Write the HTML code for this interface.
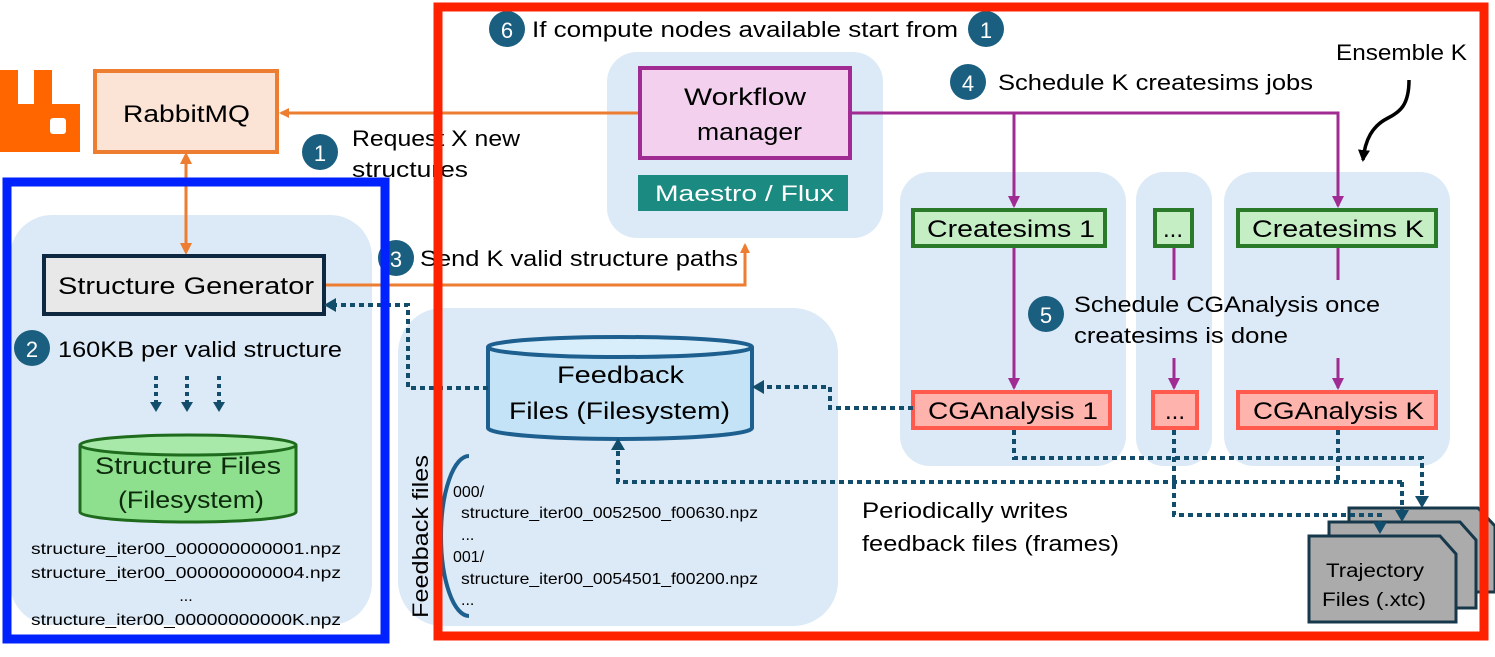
<!DOCTYPE html>
<html><head><meta charset="utf-8"><style>
html,body{margin:0;padding:0;background:#fff;}
svg text{font-family:"Liberation Sans",sans-serif;}
</style></head><body>
<svg width="1495" height="652" viewBox="0 0 1495 652" xmlns="http://www.w3.org/2000/svg">
<defs>
<marker id="ao" markerWidth="10" markerHeight="10" refX="8" refY="5" orient="auto" markerUnits="userSpaceOnUse"><path d="M0,0 L10,5 L0,10 z" fill="#ed7d31"/></marker>
<marker id="ap" markerWidth="12" markerHeight="12" refX="10" refY="6" orient="auto" markerUnits="userSpaceOnUse"><path d="M0,0 L12,6 L0,12 z" fill="#a02b93"/></marker>
<marker id="ak" markerWidth="12" markerHeight="12" refX="10" refY="6" orient="auto" markerUnits="userSpaceOnUse"><path d="M0,0 L12,6 L0,12 z" fill="#000"/></marker>
</defs>

<rect x="10" y="215" width="362" height="410" rx="42" fill="#dce9f6"/>
<rect x="607" y="52" width="276" height="186" rx="30" fill="#dce9f6"/>
<rect x="398" y="308" width="440" height="318" rx="45" fill="#dce9f6"/>
<rect x="900" y="172" width="226" height="294" rx="30" fill="#dce9f6"/>
<rect x="1136" y="172" width="76" height="294" rx="28" fill="#dce9f6"/>
<rect x="1224" y="172" width="226" height="294" rx="30" fill="#dce9f6"/>

<path d="M0,70 h18 v34 h16 v-34 h18 v34 h28 v48 h-80 z" fill="#ff6600"/>
<rect x="50" y="118" width="16" height="16" rx="3" fill="#fff"/>

<rect x="95" y="71" width="182" height="81" fill="#fbe3d6" stroke="#ed7d31" stroke-width="4"/>
<text x="123" y="122" font-size="24" textLength="127" lengthAdjust="spacingAndGlyphs">RabbitMQ</text>

<line x1="640" y1="113" x2="281" y2="113" stroke="#ed7d31" stroke-width="3" marker-end="url(#ao)"/>
<path d="M326,285 H745 V245" fill="none" stroke="#ed7d31" stroke-width="3" marker-end="url(#ao)"/>
<line x1="186" y1="160" x2="186" y2="250" stroke="#ed7d31" stroke-width="3"/>
<path d="M180,164 L186,152 L192,164 z M180,243 L186,255 L192,243 z" fill="#ed7d31"/>

<rect x="44" y="256" width="280" height="58" fill="#e8e8e8" stroke="#0e2841" stroke-width="4"/>
<text x="58" y="294" font-size="24" textLength="256" lengthAdjust="spacingAndGlyphs">Structure Generator</text>

<circle cx="32" cy="348" r="18" fill="#1a5e80"/><text x="32" y="357" font-size="22" fill="#fff" text-anchor="middle">2</text>
<text x="58" y="357" font-size="22" textLength="284" lengthAdjust="spacingAndGlyphs">160KB per valid structure</text>

<g stroke="#124e6b" stroke-width="4" stroke-dasharray="4 4" fill="none">
<line x1="156" y1="376" x2="156" y2="402"/><line x1="187" y1="376" x2="187" y2="402"/><line x1="219" y1="376" x2="219" y2="402"/>
</g>
<path d="M150,402 h12 l-6,10 z M181,402 h12 l-6,10 z M213,402 h12 l-6,10 z" fill="#124e6b"/>

<path d="M80,445 V512 A108,10 0 0 0 296,512 V445" fill="#8ee08e" stroke="#1e6b1e" stroke-width="3"/>
<ellipse cx="188" cy="445" rx="108" ry="10" fill="#a8e8a8" stroke="#1e6b1e" stroke-width="3"/>
<text x="95" y="474" font-size="24" fill="#0d2a0d" textLength="186" lengthAdjust="spacingAndGlyphs">Structure Files</text>
<text x="118" y="508" font-size="24" fill="#0d2a0d" textLength="146" lengthAdjust="spacingAndGlyphs">(Filesystem)</text>
<g font-size="16">
<text x="31" y="554" textLength="310" lengthAdjust="spacingAndGlyphs">structure_iter00_000000000001.npz</text>
<text x="31" y="578" textLength="310" lengthAdjust="spacingAndGlyphs">structure_iter00_000000000004.npz</text>
<text x="186" y="601" text-anchor="middle">...</text>
<text x="31" y="625" textLength="310" lengthAdjust="spacingAndGlyphs">structure_iter00_00000000000K.npz</text>
</g>

<circle cx="320" cy="152" r="18" fill="#1a5e80"/><text x="320" y="161" font-size="22" fill="#fff" text-anchor="middle">1</text>
<text x="352" y="146" font-size="22" textLength="168" lengthAdjust="spacingAndGlyphs">Request X new</text>
<text x="352" y="177" font-size="22" textLength="116" lengthAdjust="spacingAndGlyphs">structures</text>
<circle cx="396" cy="258" r="18" fill="#1a5e80"/><text x="396" y="267" font-size="22" fill="#fff" text-anchor="middle">3</text>
<text x="420" y="266" font-size="22" textLength="318" lengthAdjust="spacingAndGlyphs">Send K valid structure paths</text>
<circle cx="507" cy="29" r="18" fill="#1a5e80"/><text x="507" y="38" font-size="22" fill="#fff" text-anchor="middle">6</text>
<text x="532" y="37" font-size="22" textLength="426" lengthAdjust="spacingAndGlyphs">If compute nodes available start from</text>
<circle cx="986" cy="29" r="18" fill="#1a5e80"/><text x="986" y="38" font-size="22" fill="#fff" text-anchor="middle">1</text>
<circle cx="968" cy="82" r="18" fill="#1a5e80"/><text x="968" y="91" font-size="22" fill="#fff" text-anchor="middle">4</text>
<text x="998" y="90" font-size="22" textLength="315" lengthAdjust="spacingAndGlyphs">Schedule K createsims jobs</text>
<text x="1336" y="60" font-size="22" textLength="131" lengthAdjust="spacingAndGlyphs">Ensemble K</text>
<path d="M1409,80 C1409,105 1400,112 1388,118 C1372,126 1365,140 1363,160" fill="none" stroke="#000" stroke-width="3.5" marker-end="url(#ak)"/>

<rect x="640" y="68" width="210" height="90" fill="#f2d0ee" stroke="#a02b93" stroke-width="4"/>
<text x="684" y="105" font-size="24" textLength="122" lengthAdjust="spacingAndGlyphs">Workflow</text>
<text x="697" y="140" font-size="24" textLength="105" lengthAdjust="spacingAndGlyphs">manager</text>
<rect x="638" y="175" width="210" height="36" fill="#1b8a80"/>
<text x="655" y="201" font-size="22" fill="#fff" textLength="179" lengthAdjust="spacingAndGlyphs">Maestro / Flux</text>

<g stroke="#a02b93" stroke-width="3" fill="none">
<path d="M850,113 H1338 V206" marker-end="url(#ap)"/>
<path d="M1014,113 V206" marker-end="url(#ap)"/>
<path d="M1014,246 V388" marker-end="url(#ap)"/>
<path d="M1174,246 V280"/><path d="M1174,358 V388" marker-end="url(#ap)"/>
<path d="M1338,246 V280"/><path d="M1338,358 V388" marker-end="url(#ap)"/>
</g>

<g stroke="#2a7a2a" stroke-width="4" fill="#c5eec5">
<rect x="913" y="210" width="192" height="36"/>
<rect x="1155" y="210" width="37" height="36"/>
<rect x="1238" y="210" width="198" height="36"/>
</g>
<g font-size="24">
<text x="927" y="237" textLength="168" lengthAdjust="spacingAndGlyphs">Createsims 1</text>
<text x="1173" y="237" text-anchor="middle">...</text>
<text x="1252" y="237" textLength="172" lengthAdjust="spacingAndGlyphs">Createsims K</text>
</g>

<circle cx="1046" cy="314" r="18" fill="#1a5e80"/><text x="1046" y="323" font-size="22" fill="#fff" text-anchor="middle">5</text>
<text x="1074" y="312" font-size="22" textLength="306" lengthAdjust="spacingAndGlyphs">Schedule CGAnalysis once</text>
<text x="1074" y="343" font-size="22" textLength="214" lengthAdjust="spacingAndGlyphs">createsims is done</text>

<g stroke="#ff5a4d" stroke-width="4" fill="#ffb3ad">
<rect x="913" y="392" width="197" height="36"/>
<rect x="1153" y="392" width="44" height="36"/>
<rect x="1238" y="392" width="198" height="36"/>
</g>
<g font-size="24">
<text x="928" y="419" textLength="170" lengthAdjust="spacingAndGlyphs">CGAnalysis 1</text>
<text x="1175" y="419" text-anchor="middle">...</text>
<text x="1253" y="419" textLength="171" lengthAdjust="spacingAndGlyphs">CGAnalysis K</text>
</g>

<path d="M488,347 V428 A132,11 0 0 0 752,428 V347" fill="#c5e3f6" stroke="#1d5f8f" stroke-width="4"/>
<ellipse cx="620" cy="347" rx="132" ry="10" fill="#d8eefa" stroke="#1d5f8f" stroke-width="4"/>
<text x="557" y="383" font-size="24" textLength="127" lengthAdjust="spacingAndGlyphs">Feedback</text>
<text x="509" y="419" font-size="24" textLength="221" lengthAdjust="spacingAndGlyphs">Files (Filesystem)</text>

<text transform="translate(428,618) rotate(-90)" font-size="22" textLength="163" lengthAdjust="spacingAndGlyphs">Feedback files</text>
<path d="M469,456 A28,80 0 0 0 469,616" fill="none" stroke="#1d5f8f" stroke-width="4"/>
<g font-size="16">
<text x="453" y="497">000/</text>
<text x="461" y="518" textLength="297" lengthAdjust="spacingAndGlyphs">structure_iter00_0052500_f00630.npz</text>
<text x="461" y="540">...</text>
<text x="453" y="562">001/</text>
<text x="461" y="584" textLength="297" lengthAdjust="spacingAndGlyphs">structure_iter00_0054501_f00200.npz</text>
<text x="461" y="605">...</text>
</g>
<text x="862" y="518" font-size="22" textLength="206" lengthAdjust="spacingAndGlyphs">Periodically writes</text>
<text x="862" y="551" font-size="22" textLength="257" lengthAdjust="spacingAndGlyphs">feedback files (frames)</text>

<g fill="#ababab" stroke="#17384a" stroke-width="3">
<path d="M1349,508 H1478 L1495,526 V592 H1349 z"/>
<path d="M1329,522 H1460 L1476,540 V608 H1329 z"/>
<path d="M1309,536 H1440 L1456,554 V622 H1309 z"/>
</g>
<text x="1326" y="577" font-size="19" textLength="98" lengthAdjust="spacingAndGlyphs">Trajectory</text>
<text x="1322" y="606" font-size="19" textLength="104" lengthAdjust="spacingAndGlyphs">Files (.xtc)</text>

<g stroke="#124e6b" stroke-width="4" stroke-dasharray="5 4" fill="none">
<path d="M488,388 H408 V305 H336"/>
<path d="M913,408 H830 V387 H764"/>
<path d="M1014,430 V458 H1422 V496"/>
<path d="M1174,430 V515 H1380 V522"/>
<path d="M1338,430 V482"/>
<path d="M1402,482 H618 V450"/>
<path d="M1402,482 V510"/>
</g>
<path d="M324,305 l12,-7 v14 z" fill="#124e6b"/>
<path d="M752,387 l12,-7 v14 z" fill="#124e6b"/>
<path d="M618,438 l-7,12 h14 z" fill="#124e6b"/>
<path d="M1415,496 h14 l-7,12 z M1395,510 h14 l-7,12 z M1373,522 h14 l-7,12 z" fill="#124e6b"/>

<rect x="438" y="7" width="1046" height="629" fill="none" stroke="#ff2200" stroke-width="9"/>
<rect x="7" y="182" width="378" height="457" fill="none" stroke="#0022ff" stroke-width="9"/>
</svg>
</body></html>
